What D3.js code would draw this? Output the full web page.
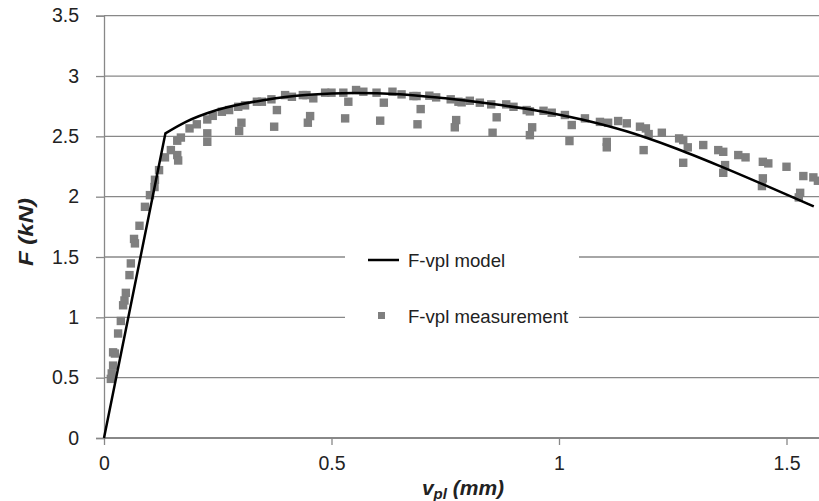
<!DOCTYPE html>
<html>
<head>
<meta charset="utf-8">
<script src="https://cdn.jsdelivr.net/npm/d3@7"></script>
<style>
  body { margin: 0; background: #fff; }
  svg { display: block; font-family: "Liberation Sans", Arial, sans-serif; }
</style>
</head>
<body>
<svg id="chart"></svg>
<script>
const width = 819;
const height = 501;

// model: elastic ramp up to the kink, then the plastic curve
const modelV = [0, 0.135, 0.18, 0.25, 0.35, 0.45, 0.55, 0.65, 0.75, 0.85, 0.95, 1.05, 1.15, 1.25, 1.35, 1.45, 1.56];
const modelF = [0, 2.525, 2.62, 2.72, 2.80, 2.845, 2.86, 2.85, 2.815, 2.77, 2.715, 2.64, 2.54, 2.41, 2.26, 2.10, 1.92];
const kinkIndex = 1;

// measurement points
const measV = [0.015, 0.017, 0.020, 0.020, 0.024, 0.031, 0.037, 0.042, 0.045, 0.048, 0.056, 0.059,
  0.066, 0.068, 0.078, 0.090, 0.101, 0.111, 0.112, 0.121, 0.134, 0.147, 0.161, 0.163, 0.161, 0.169,
  0.188, 0.204, 0.227, 0.227, 0.227, 0.239, 0.259, 0.275, 0.295, 0.310, 0.302, 0.297, 0.336, 0.347,
  0.368, 0.380, 0.374, 0.398, 0.413, 0.437, 0.445, 0.460, 0.453, 0.448, 0.486, 0.500, 0.526, 0.537,
  0.530, 0.554, 0.570, 0.599, 0.615, 0.607, 0.634, 0.654, 0.680, 0.687, 0.696, 0.689, 0.715, 0.730,
  0.762, 0.779, 0.786, 0.774, 0.771, 0.804, 0.826, 0.851, 0.863, 0.854, 0.884, 0.900, 0.929, 0.936,
  0.941, 0.936, 0.966, 0.984, 1.013, 1.028, 1.023, 1.057, 1.090, 1.108, 1.105, 1.105, 1.130, 1.149,
  1.178, 1.191, 1.197, 1.186, 1.226, 1.264, 1.273, 1.283, 1.273, 1.317, 1.350, 1.361, 1.365, 1.361,
  1.394, 1.410, 1.448, 1.460, 1.448, 1.446, 1.500, 1.537, 1.559, 1.530, 1.527, 1.569];
const measF = [0.49, 0.535, 0.60, 0.71, 0.70, 0.866, 0.97, 1.10, 1.14, 1.203, 1.35, 1.447,
  1.65, 1.613, 1.759, 1.916, 2.013, 2.08, 2.14, 2.22, 2.326, 2.386, 2.345, 2.30, 2.464, 2.49,
  2.566, 2.60, 2.525, 2.455, 2.64, 2.67, 2.704, 2.718, 2.745, 2.757, 2.613, 2.544, 2.787, 2.787,
  2.807, 2.718, 2.58, 2.842, 2.828, 2.842, 2.842, 2.815, 2.668, 2.613, 2.862, 2.862, 2.862, 2.787,
  2.649, 2.884, 2.87, 2.862, 2.779, 2.63, 2.87, 2.848, 2.834, 2.834, 2.726, 2.60, 2.837, 2.823,
  2.807, 2.787, 2.782, 2.635, 2.575, 2.795, 2.779, 2.765, 2.658, 2.53, 2.765, 2.745, 2.718, 2.707,
  2.575, 2.51, 2.712, 2.696, 2.677, 2.594, 2.461, 2.649, 2.62, 2.613, 2.455, 2.409, 2.627, 2.608,
  2.58, 2.566, 2.519, 2.386, 2.53, 2.483, 2.469, 2.409, 2.281, 2.428, 2.386, 2.372, 2.262, 2.198,
  2.345, 2.326, 2.289, 2.276, 2.152, 2.088, 2.248, 2.171, 2.160, 2.032, 1.994, 2.132];

const xTicks = [0, 0.5, 1, 1.5];
const yTicks = [0, 0.5, 1, 1.5, 2, 2.5, 3, 3.5];
const legendLabels = ['F-vpl model', 'F-vpl measurement'];

const x = d3.scaleLinear().domain([0, 1.6]).range([104, 832]);
const y = d3.scaleLinear().domain([0, 3.5]).range([438, 15.7]);

const svg = d3.select('#chart')
  .attr('width', width)
  .attr('height', height);

// gridlines
svg.append('g')
  .selectAll('line')
  .data(yTicks.filter(d => d > 0))
  .enter()
  .append('line')
  .attr('x1', 104)
  .attr('x2', width)
  .attr('y1', d => y(d))
  .attr('y2', d => y(d))
  .attr('stroke', '#888')
  .attr('stroke-width', 1.3);

// axes
const yAxis = svg.append('g')
  .attr('transform', 'translate(104,0)')
  .call(d3.axisLeft(y).tickValues(yTicks).tickFormat(d3.format('')).tickSize(8).tickPadding(17));
const xAxis = svg.append('g')
  .attr('transform', `translate(0,${y(0)})`)
  .call(d3.axisBottom(x).tickValues(xTicks).tickFormat(d3.format('')).tickSize(7).tickPadding(11));

[yAxis, xAxis].forEach(function(g) {
  g.select('.domain').attr('stroke', '#888').attr('stroke-width', 1.3);
  g.selectAll('.tick line').attr('stroke', '#888').attr('stroke-width', 1.3);
  g.selectAll('.tick text')
    .attr('fill', '#222')
    .style('font-size', '19.5px')
    .style('font-family', '"Liberation Sans", Arial, sans-serif');
});
xAxis.select('.domain').attr('stroke-width', 2).attr('d', `M104,0H${width}`);

// legend box (drawn under the marks)
const legend = svg.append('g');
legend.append('rect')
  .attr('x', 345)
  .attr('y', 243)
  .attr('width', 234)
  .attr('height', 90)
  .attr('fill', '#fff');

// measurements
svg.append('g')
  .selectAll('rect')
  .data(measV.map((v, i) => [v, measF[i]]))
  .enter()
  .append('rect')
  .attr('x', d => x(d[0]) - 4.2)
  .attr('y', d => y(d[1]) - 4.2)
  .attr('width', 8.4)
  .attr('height', 8.4)
  .attr('fill', '#7f7f7f');

// model
const modelPts = modelV.map((v, i) => [v, modelF[i]]);
const ramp = d3.line().x(d => x(d[0])).y(d => y(d[1]));
const plastic = d3.line().x(d => x(d[0])).y(d => y(d[1])).curve(d3.curveMonotoneX);
svg.append('path')
  .attr('d', ramp(modelPts.slice(0, kinkIndex + 1)) + plastic(modelPts.slice(kinkIndex)).replace(/^M/, 'L'))
  .attr('fill', 'none')
  .attr('stroke', '#000')
  .attr('stroke-width', 2.5)
  .attr('stroke-linejoin', 'miter');

// legend entries
legend.append('line')
  .attr('x1', 368).attr('x2', 399)
  .attr('y1', 260).attr('y2', 260)
  .attr('stroke', '#000')
  .attr('stroke-width', 2.5);
legend.append('rect')
  .attr('x', 378).attr('y', 312)
  .attr('width', 7).attr('height', 7)
  .attr('fill', '#7f7f7f');
legend.selectAll('text')
  .data(legendLabels)
  .enter()
  .append('text')
  .attr('x', 408)
  .attr('y', (d, i) => 266.5 + i * 56)
  .attr('fill', '#222')
  .style('font-size', '18.6px')
  .text(d => d);

// axis titles
svg.append('text')
  .attr('transform', 'translate(33,232) rotate(-90) scale(1.2,1)')
  .attr('text-anchor', 'middle')
  .style('font-size', '20px')
  .style('font-weight', 'bold')
  .style('font-style', 'italic')
  .attr('fill', '#222')
  .text('F (kN)');

const xt = svg.append('text')
  .attr('x', 463)
  .attr('y', 495)
  .attr('text-anchor', 'middle')
  .style('font-size', '21px')
  .style('font-weight', 'bold')
  .style('font-style', 'italic')
  .attr('fill', '#222');
xt.append('tspan').text('v');
xt.append('tspan').attr('dy', 4).style('font-size', '15px').text('pl');
xt.append('tspan').attr('dy', -4).text(' (mm)');
</script>
</body>
</html>
